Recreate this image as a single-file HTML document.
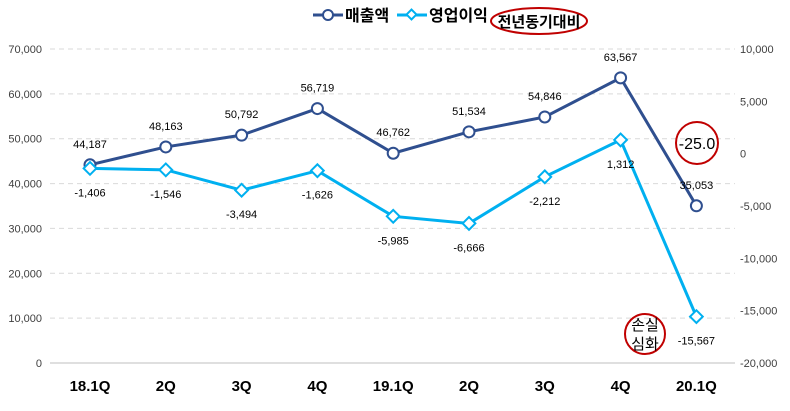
<!DOCTYPE html>
<html><head><meta charset="utf-8"><style>
body{margin:0;background:#fff;}
svg{font-family:"Liberation Sans","Noto Sans CJK KR",sans-serif;}
</style></head><body>
<svg id="c" width="790" height="406" xmlns="http://www.w3.org/2000/svg">
<g id="grid"></g><g id="axes"></g><g id="series"></g>
<g>
<g><line x1="313" y1="15" x2="343" y2="15" stroke="#2F4F8F" stroke-width="3"/><circle cx="328" cy="15" r="5" fill="#fff" stroke="#2F4F8F" stroke-width="2"/><text x="345" y="21" font-size="16" font-weight="bold" fill="#000">매출액</text></g>
<g><line x1="397" y1="15" x2="427" y2="15" stroke="#00B0F0" stroke-width="3"/><rect x="408" y="11" width="7" height="7" transform="rotate(45 411.5 14.5)" fill="#fff" stroke="#00B0F0" stroke-width="2"/><text x="429" y="21" font-size="16" font-weight="bold" fill="#000">영업이익</text></g>
<g><ellipse cx="539" cy="21" rx="48" ry="13" fill="none" stroke="#C00000" stroke-width="2"/><text x="539" y="27" font-size="15" font-weight="bold" text-anchor="middle" fill="#000">전년동기대비</text></g>
</g>
<g><circle cx="697" cy="143" r="21" fill="none" stroke="#C00000" stroke-width="2"/><text x="697" y="149" font-size="16" text-anchor="middle" fill="#000">-25.0</text></g>
<g><circle cx="645" cy="334" r="20" fill="none" stroke="#C00000" stroke-width="2"/><text x="645" y="330" font-size="15" text-anchor="middle" fill="#000">손실</text><text x="645" y="349" font-size="15" text-anchor="middle" fill="#000">심화</text></g>
</svg>
<script>
const categories=["18.1Q","2Q","3Q","4Q","19.1Q","2Q","3Q","4Q","20.1Q"];
const sales=[44187,48163,50792,56719,46762,51534,54846,63567,35053];
const opProfit=[-1406,-1546,-3494,-1626,-5985,-6666,-2212,1312,-15567];
const leftTicks=[0,10000,20000,30000,40000,50000,60000,70000];
const rightTicks=[-20000,-15000,-10000,-5000,0,5000,10000];
const NS="http://www.w3.org/2000/svg";
const yTop=49,yBot=363;
const xs=i=>90+i*75.8;
const yl=v=>yBot-(v/70000)*(yBot-yTop);
const yr=v=>yBot-((v+20000)/30000)*(yBot-yTop);
const fmt=v=>v.toLocaleString('en-US');
function el(t,a,p){const e=document.createElementNS(NS,t);for(const k in a)e.setAttribute(k,a[k]);document.getElementById(p).appendChild(e);return e;}
leftTicks.forEach(v=>{
 const l=el('line',{x1:50,x2:735,y1:yl(v),y2:yl(v),stroke:v===0?'#BFBFBF':'#D9D9D9','stroke-dasharray':v===0?'none':'5,4'},'grid');
 
 
 const t=el('text',{x:42,y:yl(v)+4,'font-size':11,'text-anchor':'end',fill:'#404040'},'axes');t.textContent=fmt(v);
 
 
});
rightTicks.forEach(v=>{
 const t=el('text',{x:740,y:yr(v)+4,'font-size':11,fill:'#404040'},'axes');t.textContent=fmt(v);
 
 
});
categories.forEach((c,i)=>{
 const t=el('text',{x:xs(i),y:391,'font-size':15,'font-weight':'bold','text-anchor':'middle',fill:'#000'},'axes');t.textContent=c;
 
 
});
const p1=el('polyline',{points:sales.map((v,i)=>xs(i)+','+yl(v)).join(' '),fill:'none',stroke:'#2F4F8F','stroke-width':3},'series');


const p2=el('polyline',{points:opProfit.map((v,i)=>xs(i)+','+yr(v)).join(' '),fill:'none',stroke:'#00B0F0','stroke-width':3},'series');


sales.forEach((v,i)=>{
 const c=el('circle',{cx:xs(i),cy:yl(v),r:5.5,fill:'#fff',stroke:'#2F4F8F','stroke-width':2},'series');
 
 
 const t=el('text',{x:xs(i),y:yl(v)-17,'font-size':11,'text-anchor':'middle',fill:'#000'},'series');t.textContent=fmt(v);
 
 
});
opProfit.forEach((v,i)=>{
 const x=xs(i),y=yr(v);
 const d=el('rect',{x:x-4.5,y:y-4.5,width:9,height:9,transform:`rotate(45 ${x} ${y})`,fill:'#fff',stroke:'#00B0F0','stroke-width':2},'series');
 
 
 const t=el('text',{x:x,y:y+28,'font-size':11,'text-anchor':'middle',fill:'#000'},'series');t.textContent=fmt(v);
 
 
});
</script>
</body></html>
